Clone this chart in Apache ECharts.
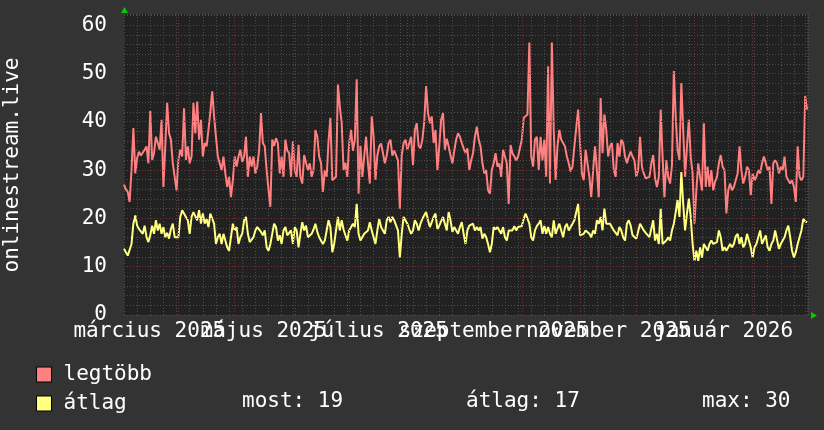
<!DOCTYPE html>
<html><head><meta charset="utf-8">
<script src="https://cdn.jsdelivr.net/npm/echarts@6/dist/echarts.min.js"></script>
<style>html,body{margin:0;padding:0;background:#333333;}#c{width:824px;height:430px;}</style>
</head><body><div id="c"></div>
<script>
// day 0 = 2025-03-03 (Monday); one value per day
const maxValues = [
27,26,25.5,23.4,30,38.7,29.3,32.5,33.8,33,
32.8,34.2,34.9,31.4,42.2,32.1,33.5,36.9,35.6,34.2,
40.4,26.5,35,43.9,37.6,36.3,31.4,28.6,25.8,32.1,
34.2,32.8,42.8,32.1,34.9,31.4,32.8,43.9,37.6,44.2,
36.3,40.4,32.8,35.6,34.9,38.3,42,46.3,41.1,36.9,
32.8,31.4,30,32.8,29.3,26.5,28.6,24.4,27.9,32.8,
30.7,32.8,34.2,31.7,32.8,36.9,28.6,32.8,30.7,32.8,
29.3,30.7,34,41.8,35.6,34.9,30,26,22.4,36.3,
35,36.6,35.6,29.3,32.8,28.6,36.3,34,33.5,28.6,
35.9,30,28.6,35.2,
28.6,27.2,33.1,31.5,30,31.4,28.6,30,38.3,36.9,
32.8,31.4,25.5,30,28.6,36,40.8,27.9,27.9,28.6,
47.7,43.2,39.7,30,31.5,28.6,35.6,38.3,34,36.3,
48.8,25.1,35,28.6,32.8,36.9,31.4,27.2,41.1,37,
28,33,34.9,35.5,33.5,31.4,33,35.6,36.3,33,
34,34,32,22,33,35.6,36.3,34.2,34,36.9,
31,38.3,39.7,35,34.5,36.3,40,47.4,41.8,39.7,
41.1,35.6,38.3,30,34.9,40.4,41.8,34.2,36.5,34.9,
33,31.4,34,36.3,37.6,36.9,35.6,34.5,33.5,34.5,
30,
32,33.5,36.9,39,36.3,34.9,31.4,29.3,30,25.8,
25.1,30,31.4,33.5,30.7,31.4,28.6,34.2,34.5,31.4,
23,35.2,33.5,32.8,32,32.8,33,36.3,40.8,40.8,
41.5,56.4,32.8,30.7,36.3,36.9,30,36.9,32,36.3,
28.6,51.5,27.2,56.4,38.3,28,34.9,38.3,36.3,35.6,
34.9,32.8,31.4,29.7,30.7,34.9,34.9,42.5,35.6,29.3,
27.9,34.2,31.4,28.6,24.4,30,34.9,30,24.4,44.9,
33.5,41.5,38.3,32.8,34.9,35.6,30,28.6,35.6,32.8,
36.3,35.6,32.8,31.4,32.8,33.8,32.8,32,28.6,30,
36.9,30.7,29.3,28.3,28.3,28.6,31.4,33.1,28.3,26.5,
28.6,42.5,32.8,24.4,32,28.6,27.2,31,50.5,41.1,
34.2,32.1,48,38.3,28.6,34.9,40.4,32.8,29.2,18.9,
25.8,31.4,31.4,25.8,39.7,26.5,30.7,26.5,30,25.8,
27.6,28.6,31.4,33.1,30.7,30,21,25.8,27.2,25.8,
26.5,27.9,29.3,34.9,30,27.2,28.6,30.7,30,24.8,
29.3,27.9,28.6,30,29.3,31.4,32.8,33.1,30,30.7,
23,31.4,32,31.4,29.3,30.7,30,32.8,28.6,27.9,
27.2,27.9,26.5,23.4,34.9,28.6,27.9,28.6,45.3,42.5
];
const avgValues = [
13.7,13,12.3,11.9,14.7,18.9,20.6,18.5,17.8,18.2,
16.8,18.5,16.1,15.1,16.5,18.5,16.8,19.6,17.5,18.9,
16.8,18.2,16.1,17,15.8,17.8,18.9,16.1,15.8,16.1,
20.3,21.7,22,20.3,19.6,16.8,20.3,21.3,21.7,19.6,
21.7,18.9,21,18.9,19.9,18.2,21,20.6,18.9,14.7,
16.1,16.8,14.7,16.8,15.4,14,13.3,13.7,18.9,17.5,
18.2,14.7,16.1,16.8,19.6,20.3,16.8,15.1,14.7,16.1,
17.5,18.2,18.2,17.2,16.5,17.5,14,13.3,14.7,16.8,
18.9,18.2,15.4,16.5,14.7,17.5,18.2,16.5,16.5,17.5,
14.7,18.2,17.5,14,
16.8,19.2,17.5,18.5,16.1,15.8,16.8,17.7,18.9,17.2,
16.1,16.5,14.7,15.4,17.5,19.6,18.2,13,14.7,17.5,
20.3,17.5,19.6,17.7,16.5,15.4,17.5,17.8,18.9,18.2,
23,16.8,15.4,15.1,16.8,16.5,17.5,19.2,17.5,16.1,
14.7,17.5,19.9,18.2,17.5,16.8,19.6,20.3,19.2,20.3,
19.6,19.2,17.5,11.9,16.8,20.3,20.6,18.9,17.8,16.8,
17.5,19.6,18.9,17.5,18.9,19.9,19.9,21.3,19.6,18.2,
19.2,20.3,21,17.8,18.5,18.2,20.3,18.9,17.5,21.3,
19.6,17.2,18.2,17.5,16.8,18.2,19.2,16.8,14.7,17.5,
18.5,
18.2,18.9,17.5,18.2,17.5,18.2,15.8,16.8,16.1,14.7,
13,14.7,18.2,17.7,18.2,17.5,16.8,18.2,16.1,15.4,
17.5,17.7,17.5,18.4,17.5,18.2,18.2,18.4,19.9,21,
21.3,18.9,16.1,15.4,17.5,18.4,18.9,19.6,16.8,18.4,
16.8,18.2,16.8,16.1,19.6,16.8,16.8,18.9,17.5,16.1,
18.2,18.9,17.5,17.5,18.9,19.6,19.2,23,16.5,16.1,
16.8,17.5,17.7,16.8,16.1,17.5,16.8,19.6,18.9,20.3,
17.5,22,18.9,18.9,18.9,18.9,17.5,17.2,16.5,18.2,
17.5,16.1,15.4,18.9,19.6,18.5,16.5,16.8,15.8,16.1,
18.9,18.5,17.5,17,17,16.1,16.1,19.6,15.4,16.8,
14.7,22,14.7,14.7,15.4,16.1,15.4,17.5,18.9,21.3,
23.8,20.3,29.6,23,17.5,21,24.1,20.3,14.7,11.2,
13.3,11.2,14,11.9,14.7,14,13.3,14.7,15.4,14.7,
14.7,15.1,17.5,16.1,13.3,14,13.3,14,14.7,14,
14.7,16.3,16.8,14.7,16.1,14,14.7,16.8,15.4,14,
11.9,14,14.7,16.1,17.5,14.7,15.1,16.5,14,13.3,
14.7,15.4,17.5,17.5,13.7,14.7,15.4,16.1,17.5,18.5,
16.1,13.3,11.9,13,14.7,16.1,17.5,19.9,19.4,19.2
];
const monthStartDays = [29,59,90,120,151,182,212,243,273,304,335,363];
const monthLabelDays = [13.5,74.5,135.5,197,258,319.5];
const monthLabels = ['március 2025','május 2025','július 2025','szeptember 2025','november 2025','január 2026'];
const majorYValues = [10,20,30,40,50,60];
const seriesNames = ['legtöbb','átlag'];
const statTexts = ['most: 19','átlag: 17','max: 30'];
const axisTitle = 'onlinestream.live';

const FONT = '"DejaVu Sans Mono", monospace';
const chart = echarts.init(document.getElementById('c'), null, {renderer:'canvas'});
const toPairs = arr => arr.map((v,i)=>[i,v]);
const minorStyle = {color:'#4e4e4e', type:[1,2], width:1};
const majorStyle = {color:'#773333', type:[1,2], width:1};

const labelAxes = monthLabelDays.map((d,i)=>({
  type:'value', min:0, max:364.5, position:'bottom',
  axisLine:{show:false}, axisTick:{show:false}, splitLine:{show:false},
  axisLabel:{show:true, customValues:[d], margin:6, color:'#ffffff',
    fontFamily:'DejaVu Sans Mono', fontSize:21, hideOverlap:false,
    showMinLabel:true, showMaxLabel:true, formatter:()=>monthLabels[i]}
}));

chart.setOption({
  backgroundColor:'#333333',
  animation:false,
  grid:{left:124, top:14, width:684, height:301, show:true, backgroundColor:'#212121', borderWidth:0, outerBoundsMode:'none'},
  xAxis:[
    {type:'value', min:0, max:364.5, interval:7,
     axisLine:{show:false}, axisTick:{show:false}, axisLabel:{show:false},
     splitLine:{show:true, lineStyle:minorStyle}},
    ...labelAxes
  ],
  yAxis:[
    {type:'value', min:0, max:62.3, interval:2,
     axisLine:{show:false}, axisTick:{show:false},
     splitLine:{show:true, lineStyle:minorStyle},
     axisLabel:{show:true, margin:17, color:'#ffffff', fontFamily:'DejaVu Sans Mono', fontSize:21,
       formatter:v=>(v%10===0?String(v):'')}}
  ],
  legend:{
    show:true, orient:'vertical', left:31, top:359, itemWidth:15, itemHeight:15, itemGap:8,
    icon:'rect', selectedMode:false, data:seriesNames,
    itemStyle:{borderColor:'#000000', borderWidth:1},
    textStyle:{color:'#ffffff', fontFamily:'DejaVu Sans Mono', fontSize:21, padding:[0,0,0,7]}
  },
  series:[
    {type:'line', name:'grid', data:[], z:1, silent:true,
     markLine:{silent:true, symbol:['none','none'], label:{show:false}, animation:false,
       lineStyle:majorStyle, emphasis:{disabled:true},
       data:[...monthStartDays.map(d=>({xAxis:d})), ...majorYValues.map(v=>({yAxis:v}))]}},
    {type:'line', name:seriesNames[0], data:toPairs(maxValues), showSymbol:false, symbol:'none',
     color:'#ff8080', lineStyle:{color:'#ff8080', width:2}, z:3},
    {type:'line', name:seriesNames[1], data:toPairs(avgValues), showSymbol:false, symbol:'none',
     color:'#ffff80', lineStyle:{color:'#ffff80', width:2}, z:4}
  ],
  graphic:[
    {type:'text', x:13, y:165, rotation:Math.PI/2,
     style:{text:axisTitle, fill:'#ffffff', font:'21px '+FONT, align:'center', verticalAlign:'middle'}},
    {type:'text', x:242, y:402, style:{text:statTexts[0], fill:'#ffffff', font:'21px '+FONT, verticalAlign:'middle'}},
    {type:'text', x:466, y:402, style:{text:statTexts[1], fill:'#ffffff', font:'21px '+FONT, verticalAlign:'middle'}},
    {type:'text', x:702, y:402, style:{text:statTexts[2], fill:'#ffffff', font:'21px '+FONT, verticalAlign:'middle'}},
    {type:'polygon', shape:{points:[[121,13],[128,13],[124.5,7]]}, style:{fill:'#00cc00'}},
    {type:'polygon', shape:{points:[[811,312],[811,319],[817,315.5]]}, style:{fill:'#00cc00'}}
  ]
});
</script></body></html>
